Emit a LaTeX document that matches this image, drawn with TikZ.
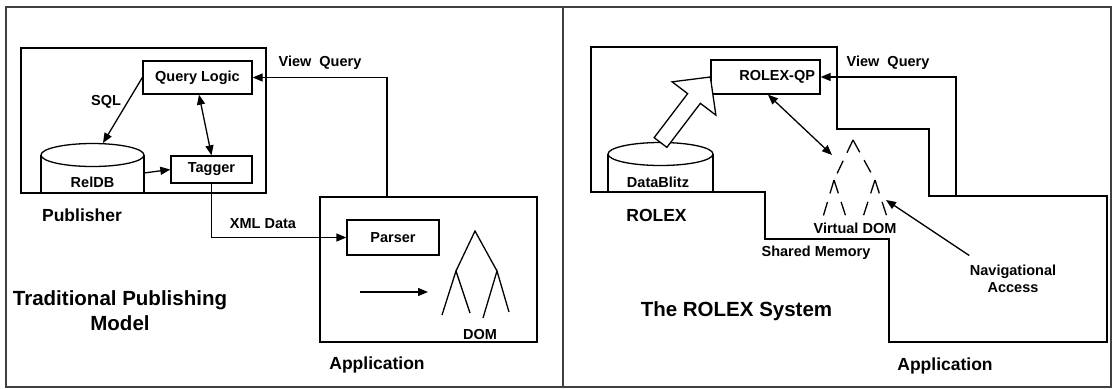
\documentclass[tikz,border=0pt]{standalone}
\usepackage{fontspec}
\setmainfont{Liberation Sans}
\usetikzlibrary{arrows.meta,calc}

\tikzset{
  lbl/.style={font=\bfseries\fontsize{14.5}{17}\selectfont, inner sep=0pt},
  midlbl/.style={font=\bfseries\fontsize{17.5}{20}\selectfont, inner sep=0pt},
  biglbl/.style={font=\bfseries\fontsize{20.5}{25}\selectfont, inner sep=0pt, align=center},
  blk/.style={draw, lbl},
  vdash/.style={dash pattern=on 14pt off 9pt},
  frame/.style={line width=1.5pt, black!75},
}

\begin{document}
\begin{tikzpicture}[x=1pt, y=-1pt, line width=1.3pt, >={Triangle[length=10pt,width=8pt]}]

\useasboundingbox (0,0) rectangle (1113,388);

% outer frame
\draw[frame] (6,7) rectangle (1111,387);
\draw[frame] (563,7) -- (563,387);

% ---- traditional publishing model
\draw (21,48) rectangle (266,193);
\node[blk, minimum width=109pt, minimum height=33pt] (qlogic) at (197.5,77.5) {Query Logic};
\node[blk, minimum width=81pt, minimum height=27pt]  (tagger) at (211.5,169.5) {Tagger};

% RelDB
\draw (41,193) -- (41,155) (144,155) -- (144,193);
\draw (92.5,155) ellipse [x radius=51.5, y radius=11.5];
\node[lbl] (reldb) at (92.5,182) {RelDB};
\coordinate (reldbtop)  at (103,143);
\coordinate (reldbside) at (144,173);

\draw[->] (qlogic.west) -- (reldbtop);
\node[lbl] (sql) at (106,102) {SQL};
\draw[<->] ([xshift=1.5pt]qlogic.south) -- (tagger.north);
\draw[->] (reldbside) -- (tagger.west);

\node[draw, minimum width=217pt, minimum height=145pt] (app1) at (428.5,269.5) {};
\node[lbl] (vq1) at (320,63) {View\ \ Query};
\draw[->] ([xshift=-41.5pt]app1.north) |- (qlogic.east);

\node[blk, minimum width=92pt, minimum height=35pt] (parser) at (393,237.5) {Parser};
\draw[->] (tagger.south) |- (parser.west);
\node[lbl] (xml) at (263,224) {XML Data};

\coordinate (pa) at (360,292);
\coordinate (pb) at (428,292);
\draw[->] (pa) -- (pb);

% DOM tree
\draw (442,315) -- (456,271) -- (470,313)
      (456,271) -- (475,231) -- (497,271)
      (483,318) -- (497,271) -- (509,312);
\node[lbl] (dom) at (480,335) {DOM};

\node[midlbl] (pub) at (82,215) {Publisher};
\node[biglbl] (trad) at (120,310.5) {Traditional Publishing\\Model};
\node[midlbl] (applbl1) at (377,365) {Application};

% ---- ROLEX system
\draw (591,47) -- (837,47) -- (837,129) -- (929,129) -- (929,196) -- (1107,196)
      -- (1107,342) -- (889,342) -- (889,239) -- (765,239) -- (765,192) -- (591,192) -- cycle;

\node[blk, minimum height=34pt, text width=99pt, inner xsep=5pt, align=right] (qp) at (765.5,77) {ROLEX-QP};

% DataBlitz
\draw (608,192) -- (608,154) (713,154) -- (713,192);
\draw (660.5,154) ellipse [x radius=52.5, y radius=11.5];
\node[lbl] (dblitz) at (658,182) {DataBlitz};
\coordinate (dbtop) at (660.5,142.5);

% hollow arrow
\coordinate (hb) at ($(qp.west)!27pt!(dbtop)$);
\draw[fill=white] ($(dbtop)!8pt!90:(qp.west)$) -- ($(hb)!8pt!90:(qp.west)$)
      -- ($(hb)!27.5pt!90:(qp.west)$) -- (qp.west) -- ($(hb)!27.5pt!-90:(qp.west)$)
      -- ($(hb)!8pt!-90:(qp.west)$) -- ($(dbtop)!8pt!-90:(qp.west)$) -- cycle;

% virtual DOM
\coordinate (va)  at (853,140);
\coordinate (vl)  at (834,180);
\coordinate (vr)  at (875,180);
\coordinate (vll) at (823,217);
\coordinate (vlr) at (846,217);
\coordinate (vrl) at (863,217);
\coordinate (vrr) at (887,217);
\foreach \a/\b in {va/vl, va/vr, vl/vll, vl/vlr, vr/vrl, vr/vrr}
  \draw[vdash] (\a) -- (\b);
\node[lbl] (vdom) at (855,228) {Virtual DOM};

\coordinate (vtop) at (832,155);
\draw[<->] ([xshift=2.5pt]qp.south) -- (vtop);
\node[lbl] (shm) at (816,253) {Shared Memory};

\node[lbl, align=center] (nav) at (1013,279) {Navigational\\Access};
\coordinate (vend) at (886,200);
\draw[->] ([yshift=9pt]nav.north west) -- (vend);

\node[lbl] (vq2) at (888,63) {View\ \ Query};
\coordinate (appq) at (956,196);
\draw[->] (appq) |- (qp.east);

\node[midlbl] (rolex) at (656.5,215) {ROLEX};
\node[biglbl] (sys) at (736.5,311) {The ROLEX System};
\node[midlbl] (applbl2) at (945,366) {Application};

\end{tikzpicture}
\end{document}
